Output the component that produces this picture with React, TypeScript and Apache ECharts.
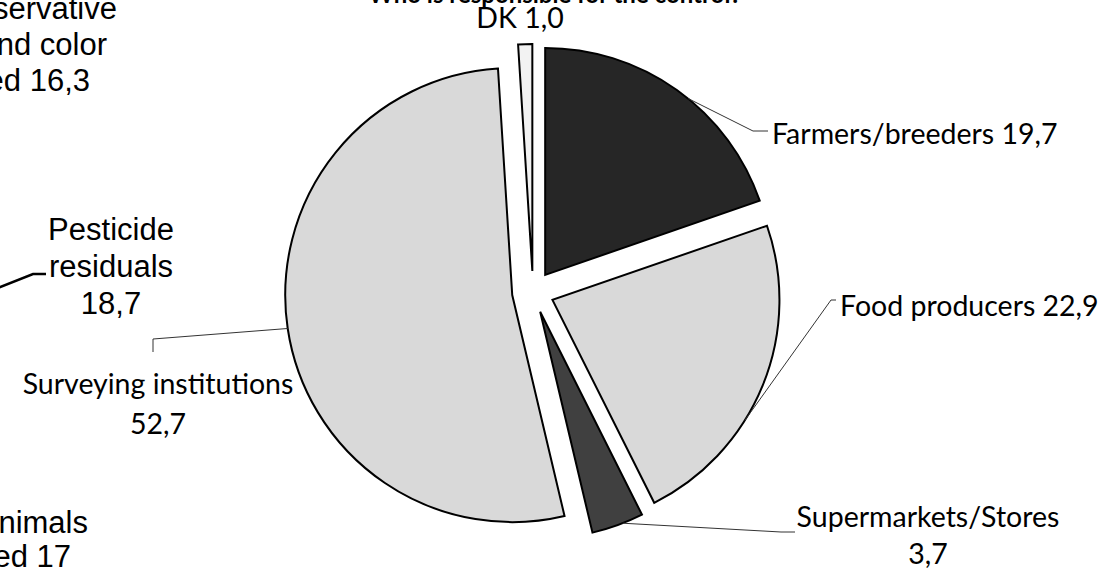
import React, { useEffect, useRef } from "react";
import * as echarts from "echarts";

// Who carries out the control (shares, %)
const categories = [
  "Farmers/breeders",
  "Food producers",
  "Supermarkets/Stores",
  "Surveying institutions",
  "DK",
];
const shares = [19.7, 22.9, 3.7, 52.7, 1.0];
const sliceColors = ["#262626", "#d9d9d9", "#404040", "#d9d9d9", "#f2f2f2"];
const twoLineLabels = [false, false, true, true, false];

// Captions of the neighbouring chart that overlaps on the left
const neighbourLines = [
  { text: "Preservative", right: 117, base: 19 },
  { text: "and color", right: 107, base: 55 },
  { text: "added 16,3", right: 90, base: 91 },
  { text: "Animals", right: 88, base: 533 },
  { text: "treated 17", right: 71, base: 567 },
];
const pesticideLines = ["Pesticide", "residuals", "18,7"];

const titleText = "Who is responsible for the control?";

// Pie geometry
const CX = 533;
const CY = 292;
const RADIUS = 227;
const EXPLODE = 21;

// Label placement: text anchor, line spacing and the bends of each leader line
const placements = [
  { x: 772, y: 133, align: "left", lh: 34, frac: 0.55, bends: [[753, 131], [768, 131]] },
  { x: 840, y: 305, align: "left", lh: 34, frac: 0.62, bends: [[831, 300], [836, 300]] },
  { x: 928, y: 534, align: "center", lh: 37, frac: 0.4, bends: [[781, 532], [795, 532]] },
  { x: 158, y: 403, align: "center", lh: 40, frac: 0.5, bends: [[153, 339], [153, 352]] },
  { x: 520, y: 17, align: "center", lh: 34, frac: 0.5, bends: null },
];

const total = shares.reduce((a, b) => a + b, 0);
const fmt = (v: number) => v.toFixed(1).replace(".", ",");

function dir(deg: number): [number, number] {
  const r = (deg * Math.PI) / 180;
  return [Math.sin(r), -Math.cos(r)];
}

// point on the outer arc of an exploded slice
function arcPoint(index: number, frac: number): number[] {
  const before = shares.slice(0, index).reduce((a, b) => a + b, 0);
  const a0 = (before / total) * 360;
  const a1 = ((before + shares[index]) / total) * 360;
  const mid = (a0 + a1) / 2;
  const at = a0 + (a1 - a0) * frac;
  const [mx, my] = dir(mid);
  const [px, py] = dir(at);
  return [CX + EXPLODE * mx + RADIUS * px, CY + EXPLODE * my + RADIUS * py];
}

export default function App() {
  const ref = useRef<HTMLDivElement>(null);

  useEffect(() => {
    if (!ref.current) return;
    const chart = echarts.init(ref.current, undefined, { renderer: "svg" });

    const data = categories.map((name, i) => ({
      name,
      value: shares[i],
      selected: true,
      itemStyle: { color: sliceColors[i] },
    }));

    const sideFont = { fontFamily: "Liberation Sans", fontSize: 31, fill: "#000" };

    // slice captions and leader lines
    const sliceLabels: any[] = [];
    categories.forEach((name, i) => {
      const p = placements[i];
      const value = fmt(shares[i]);
      sliceLabels.push({
        type: "text",
        x: p.x,
        y: p.y,
        z: 10,
        style: {
          text: twoLineLabels[i] ? `${name}\n${value}` : `${name} ${value}`,
          fontFamily: "Lato",
          fontSize: 28.5,
          lineHeight: p.lh,
          fill: "#000",
          align: p.align,
          verticalAlign: "middle",
        },
      });
      if (p.bends) {
        sliceLabels.push({
          type: "polyline",
          z: 10,
          shape: { points: [arcPoint(i, p.frac), ...p.bends] },
          style: { stroke: "#333", lineWidth: 1, fill: "none" },
        });
      }
    });

    const graphics: any[] = [
      {
        type: "text",
        x: 555,
        y: -7,
        style: {
          text: titleText,
          fontFamily: "Lato",
          fontWeight: "bold",
          fontSize: 24,
          fill: "#000",
          align: "center",
          verticalAlign: "middle",
        },
      },
      ...neighbourLines.map((l) => ({
        type: "text",
        x: l.right,
        y: l.base - 11,
        style: { ...sideFont, text: l.text, align: "right", verticalAlign: "middle" },
      })),
      ...pesticideLines.map((t, i) => ({
        type: "text",
        x: 111,
        y: 229 + i * 37,
        style: { ...sideFont, text: t, align: "center", verticalAlign: "middle" },
      })),
      {
        type: "polyline",
        shape: { points: [[-2, 288], [33, 274], [46, 274]] },
        style: { stroke: "#000", lineWidth: 2.5, fill: "none" },
      },
      ...sliceLabels,
    ];

    chart.setOption({
      animation: false,
      backgroundColor: "#fff",
      graphic: graphics,
      series: [
        {
          type: "pie",
          center: [CX, CY],
          radius: [0, RADIUS],
          startAngle: 90,
          clockwise: true,
          selectedMode: "multiple",
          selectedOffset: EXPLODE,
          avoidLabelOverlap: false,
          data,
          itemStyle: { borderColor: "#000", borderWidth: 2, borderJoin: "miter" },
          select: {
            itemStyle: { borderColor: "#000", borderWidth: 2 },
          },
          emphasis: { disabled: true },
          label: { show: false },
          labelLine: { show: false },
        },
      ],
    });

    return () => chart.dispose();
  }, []);

  return (
    <div
      ref={ref}
      style={{ position: "absolute", left: 0, top: 0, width: 1115, height: 570 }}
    />
  );
}
